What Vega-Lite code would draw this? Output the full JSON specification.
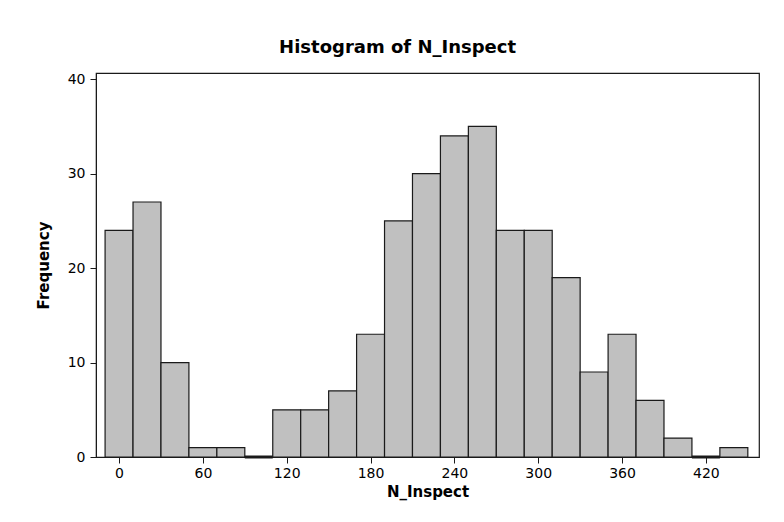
{
  "$schema": "https://vega.github.io/schema/vega-lite/v6.json",
  "width": 663,
  "height": 384,
  "autosize": "none",
  "padding": {"left": 96, "top": 73, "right": 25, "bottom": 65},
  "background": "white",
  "title": {
    "text": "Histogram of N_Inspect",
    "font": "DejaVu Sans",
    "fontSize": 18,
    "fontWeight": "bold",
    "color": "black",
    "anchor": "middle",
    "frame": "bounds",
    "offset": 15
  },
  "data": {
    "values": [
      {"start": -10, "end": 10, "count": 24},
      {"start": 10, "end": 30, "count": 27},
      {"start": 30, "end": 50, "count": 10},
      {"start": 50, "end": 70, "count": 1},
      {"start": 70, "end": 90, "count": 1},
      {"start": 90, "end": 110, "count": 0},
      {"start": 110, "end": 130, "count": 5},
      {"start": 130, "end": 150, "count": 5},
      {"start": 150, "end": 170, "count": 7},
      {"start": 170, "end": 190, "count": 13},
      {"start": 190, "end": 210, "count": 25},
      {"start": 210, "end": 230, "count": 30},
      {"start": 230, "end": 250, "count": 34},
      {"start": 250, "end": 270, "count": 35},
      {"start": 270, "end": 290, "count": 24},
      {"start": 290, "end": 310, "count": 24},
      {"start": 310, "end": 330, "count": 19},
      {"start": 330, "end": 350, "count": 9},
      {"start": 350, "end": 370, "count": 13},
      {"start": 370, "end": 390, "count": 6},
      {"start": 390, "end": 410, "count": 2},
      {"start": 410, "end": 430, "count": 0},
      {"start": 430, "end": 450, "count": 1}
    ]
  },
  "layer": [
    {
      "mark": {"type": "bar", "fill": "#c0c0c0", "stroke": "#1a1a1a", "strokeWidth": 1.2},
      "encoding": {
        "x": {
          "field": "start",
          "type": "quantitative",
          "scale": {"domain": [-16.5, 458], "nice": false, "zero": false},
          "axis": {
            "values": [0, 60, 120, 180, 240, 300, 360, 420],
            "title": "N_Inspect",
            "grid": false
          }
        },
        "x2": {"field": "end"},
        "y": {
          "field": "count",
          "type": "quantitative",
          "scale": {"domain": [0, 40.66], "nice": false},
          "axis": {
            "values": [0, 10, 20, 30, 40],
            "title": "Frequency",
            "grid": false
          }
        },
        "y2": {"datum": 0}
      }
    },
    {
      "transform": [{"filter": "datum.count == 0"}],
      "mark": {"type": "rule", "stroke": "#1a1a1a", "strokeWidth": 3},
      "encoding": {
        "x": {"field": "start", "type": "quantitative"},
        "x2": {"field": "end"},
        "y": {"field": "count", "type": "quantitative"}
      }
    }
  ],
  "config": {
    "view": {"stroke": "#1a1a1a", "strokeWidth": 1.2},
    "axis": {
      "domain": true,
      "domainColor": "#1a1a1a",
      "tickColor": "#1a1a1a",
      "tickSize": 6,
      "labelFont": "DejaVu Sans",
      "labelFontSize": 14,
      "labelColor": "black",
      "labelPadding": 3,
      "titleFont": "DejaVu Sans",
      "titleFontSize": 15,
      "titleFontWeight": "bold",
      "titleColor": "black"
    },
    "axisX": {"titlePadding": 4},
    "axisY": {"titlePadding": 16, "labelPadding": 5}
  }
}
